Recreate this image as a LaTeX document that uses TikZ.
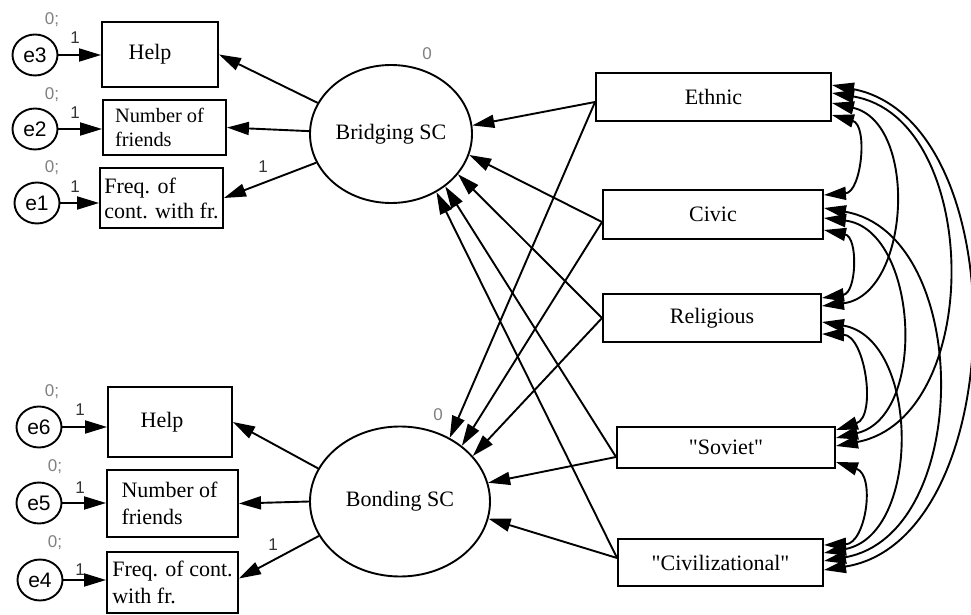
\documentclass[tikz,border=0pt]{standalone}
\usepackage{fontspec}
\setmainfont{Liberation Serif}[Ligatures=TeXOff]
\newfontfamily\labfont{Liberation Sans}
\usetikzlibrary{arrows.meta,shapes.geometric}
\begin{document}
\begin{tikzpicture}[x=0.5pt, y=-0.5pt,
  line width=0.95pt,
  >={Triangle[length=11pt,width=6.5pt]},
  obs/.style={draw, rectangle, inner sep=1pt, align=left, font=\fontsize{11}{13.5}\selectfont},
  lat/.style={draw, ellipse, inner sep=0pt, font=\fontsize{11}{13}\selectfont},
  err/.style={draw, ellipse, inner sep=0pt, minimum width=22.5pt, minimum height=20.5pt, font=\labfont\fontsize{10.5}{12}\selectfont},
  zlab/.style={font=\labfont\fontsize{8.5}{10}\selectfont, text=black!50, inner sep=0pt},
  olab/.style={font=\labfont\fontsize{8.5}{10}\selectfont, text=black!80, inner sep=0pt},
  reg/.style={->},
  cov/.style={<->}
]
\fill[white] (0,0) rectangle (971,615);
\useasboundingbox (0,0) rectangle (971,615);

% indicator boxes (top)
\node[obs, minimum width=58pt, minimum height=32.5pt] (help1) at (160,54.5) {Help\hspace*{10pt}};
\node[obs, minimum width=61.5pt, minimum height=27.5pt, font=\fontsize{10.2}{12}\selectfont] (num1) at (164.5,127.5) {Number of\hspace*{5pt}\\friends};
\node[obs, minimum width=61.5pt, minimum height=30pt, font=\fontsize{11}{12.5}\selectfont] (freq1) at (161.5,198) {Freq. of\\cont. with fr.};
% indicator boxes (bottom)
\node[obs, minimum width=62pt, minimum height=35pt] (help2) at (170,422) {Help\hspace*{8pt}};
\node[obs, minimum width=65.5pt, minimum height=33.5pt] (num2) at (172.5,503.5) {Number of\hspace*{3pt}\\friends};
\node[obs, minimum width=65.5pt, minimum height=30.5pt] (freq2) at (172.5,582.5) {Freq. of cont.\\with fr.};

% error terms
\node[err] (e3) at (35,55) {e3};
\node[err] (e2) at (35,129) {e2};
\node[err] (e1) at (37,203) {e1};
\node[err] (e6) at (39,427) {e6};
\node[err] (e5) at (39,503) {e5};
\node[err] (e4) at (40,580) {e4};

% latent variables
\node[lat, minimum width=81pt, minimum height=69pt] (bridging) at (391,134) {Bridging SC};
\node[lat, minimum width=90pt, minimum height=75pt] (bonding) at (400,501.5) {Bonding SC};

% exogenous boxes
\node[obs, minimum width=117.5pt, minimum height=24pt] (ethnic) at (713.5,97) {Ethnic};
\node[obs, minimum width=110pt, minimum height=24.5pt] (civic) at (713,214.5) {Civic};
\node[obs, minimum width=109pt, minimum height=24pt] (relig) at (712,318) {Religious};
\node[obs, minimum width=109pt, minimum height=20.5pt] (soviet) at (726,447.5) {"Soviet"};
\node[obs, minimum width=102.5pt, minimum height=23.5pt] (civil) at (720.5,562.5) {"Civilizational"};

% labels
\node[zlab] (z3) at (52,20) {0;};
\node[zlab] (z2) at (52,95) {0;};
\node[zlab] (z1) at (52,168) {0;};
\node[zlab] (z6) at (52,392) {0;};
\node[zlab] (z5) at (55,467) {0;};
\node[zlab] (z4) at (55,543) {0;};
\node[zlab] (zb) at (427,54) {0};
\node[zlab] (zo) at (438,415) {0};
\node[olab] (o3) at (75,38) {1};
\node[olab] (o2) at (75,113) {1};
\node[olab] (o1) at (75,187) {1};
\node[olab] (o6) at (80,410) {1};
\node[olab] (o5) at (80,488) {1};
\node[olab] (o4) at (80,570) {1};
\node[olab] (ob) at (263,167) {1};
\node[olab] (oo) at (273,545) {1};

% error arrows
\draw[reg] (e3) -- (e3 -| help1.west);
\draw[reg] (e2) -- (e2 -| num1.west);
\draw[reg] (e1) -- (e1 -| freq1.west);
\draw[reg] (e6) -- (e6 -| help2.west);
\draw[reg] (e5) -- (e5 -| num2.west);
\draw[reg] (e4) -- (e4 -| freq2.west);

% loadings
\draw[reg] (bridging.157) -- (help1.east);
\draw[reg] (bridging.178) -- (num1.east);
\draw[reg] (bridging.201) -- (freq1.east);
\draw[reg] (bonding.158) -- (help2.east);
\draw[reg] (bonding.180) -- (num2.east);
\draw[reg] (bonding.203) -- ([yshift=2pt]freq2.east);

% origins of regression paths
\coordinate (eo) at ([yshift=-2.5pt]ethnic.west);
\coordinate (co) at ([yshift=-3.75pt]civic.west);
\coordinate (ro) at (relig.west);
\coordinate (so) at ([yshift=-4.75pt]soviet.west);
\coordinate (vo) at ([yshift=2.25pt]civil.west);

\draw[reg] (eo) -- (bridging.6);
\draw[reg] (eo) -- (bonding.52);
\draw[reg] (co) -- (bridging.-15);
\draw[reg] (co) -- (bonding.42);
\draw[reg] (ro) -- (bridging.-31);
\draw[reg] (ro) -- (bonding.32);
\draw[reg] (so) -- (bridging.-44);
\draw[reg] (so) -- (bonding.12);
\draw[reg] (vo) -- (bridging.-52);
\draw[reg] (vo) -- (bonding.-11);

% covariances
\draw[cov] ([yshift=-9pt]ethnic.east) to[bend left=80, looseness=1.2] ([yshift=9.75pt]civic.east);
\draw[cov] ([yshift=-3pt]ethnic.east) to[bend left=80, looseness=1.12] ([yshift=6pt]relig.east);
\draw[cov] ([yshift=2pt]ethnic.east) to[bend left=80, looseness=1.1] ([yshift=0.75pt]soviet.east);
\draw[cov] ([yshift=6pt]ethnic.east) to[bend left=80, looseness=1.0] ([yshift=-3.75pt]civil.east);
\draw[cov] ([yshift=-7.75pt]civic.east) to[bend left=80, looseness=1.32] ([yshift=10pt]relig.east);
\draw[cov] ([yshift=-1.75pt]civic.east) to[bend left=80, looseness=1.1] ([yshift=4.75pt]soviet.east);
\draw[cov] ([yshift=3.25pt]civic.east) to[bend left=80, looseness=1.1] ([yshift=0.75pt]civil.east);
\draw[cov] ([yshift=-8pt]relig.east) to[bend left=80, looseness=1.14] ([yshift=8.75pt]soviet.east);
\draw[cov] ([yshift=-2pt]relig.east) to[bend left=80, looseness=1.1] ([yshift=4.75pt]civil.east);
\draw[cov] ([yshift=-7.25pt]soviet.east) to[bend left=80, looseness=1.28] ([yshift=8.75pt]civil.east);
\end{tikzpicture}
\end{document}
